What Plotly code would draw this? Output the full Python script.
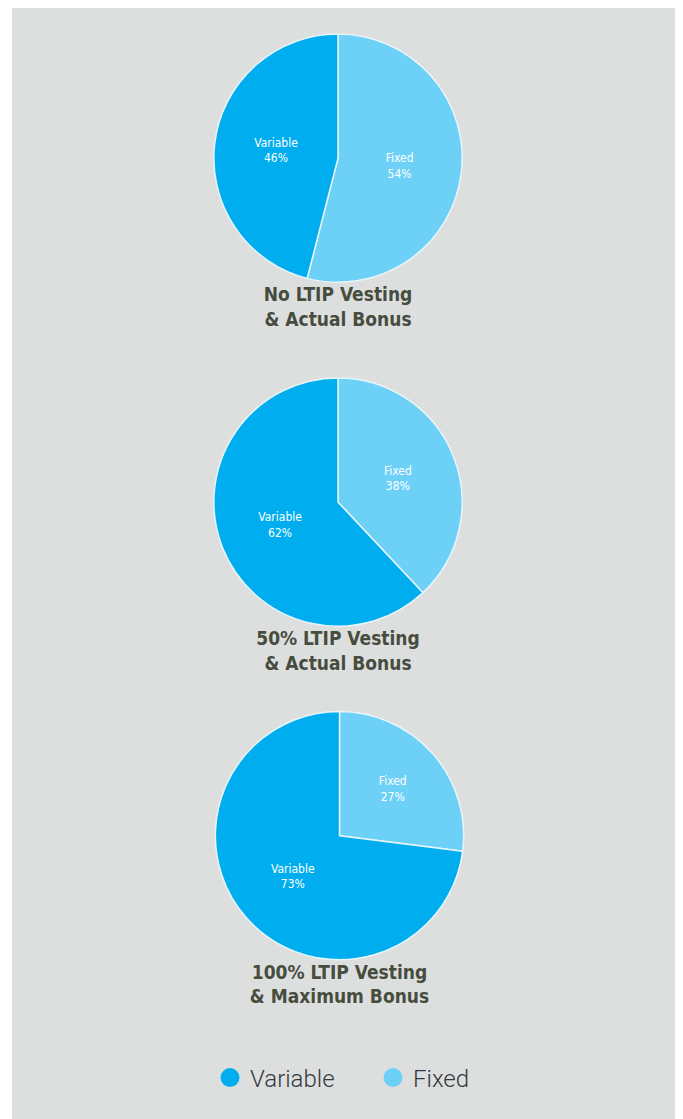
import plotly.graph_objects as go

labels = ["Fixed", "Variable"]
legend_labels = ["Variable", "Fixed"]
scenario_titles = [
    "No LTIP Vesting<br>& Actual Bonus",
    "50% LTIP Vesting<br>& Actual Bonus",
    "100% LTIP Vesting<br>& Maximum Bonus",
]
fixed_pct = [54, 38, 27]
variable_pct = [46, 62, 73]

color_map = {"Variable": "#00AEEF", "Fixed": "#6DD0F7"}
bg = "#DDDFDE"
title_color = "#474D3E"

domains_y = [(0.71314, 0.97677), (0.40572, 0.66935), (0.10769, 0.37131)]
domains_x = [(0.2643, 0.7147), (0.2643, 0.7147), (0.2665, 0.7170)]

cond = "DejaVu Sans Condensed, Liberation Sans Narrow, DejaVu Sans"

fig = go.Figure()
for i in range(3):
    fig.add_trace(go.Pie(
        labels=labels,
        values=[fixed_pct[i], variable_pct[i]],
        sort=False,
        direction="clockwise",
        rotation=0,
        marker=dict(colors=[color_map[l] for l in labels],
                    line=dict(color="#E8F5FB", width=1.5)),
        texttemplate="%{label}<br>%{value}%",
        textposition="inside",
        insidetextorientation="horizontal",
        textfont=dict(family=cond, size=12, color="white"),
        title=dict(text="<b>" + scenario_titles[i].replace("<br>", "</b><br><b>") + "</b>",
                   position="bottom center",
                   font=dict(family=cond, size=19, color=title_color)),
        domain=dict(x=list(domains_x[i]), y=list(domains_y[i])),
        showlegend=False,
        hoverinfo="label+percent",
    ))

for lab in legend_labels:
    fig.add_trace(go.Scatter(
        x=[None], y=[None], mode="markers", name=lab,
        marker=dict(symbol="circle", size=22, color=color_map[lab],
                    line=dict(color=color_map[lab], width=3)),
        showlegend=True,
    ))

fig.update_layout(
    width=683, height=1119,
    margin=dict(l=4, r=13, t=0, b=0),
    paper_bgcolor="white",
    plot_bgcolor=bg,
    xaxis=dict(visible=False, showgrid=False, zeroline=False),
    yaxis=dict(visible=False, showgrid=False, zeroline=False),
    legend=dict(
        orientation="h", x=0.2973, xanchor="left", y=0.04379, yanchor="middle",
        font=dict(family="Roboto", size=24, color="#333840", weight=300),
        bgcolor="rgba(0,0,0,0)", itemsizing="trace",
        entrywidth=118, entrywidthmode="pixels",
    ),
)

fig.write_html("out.html")
